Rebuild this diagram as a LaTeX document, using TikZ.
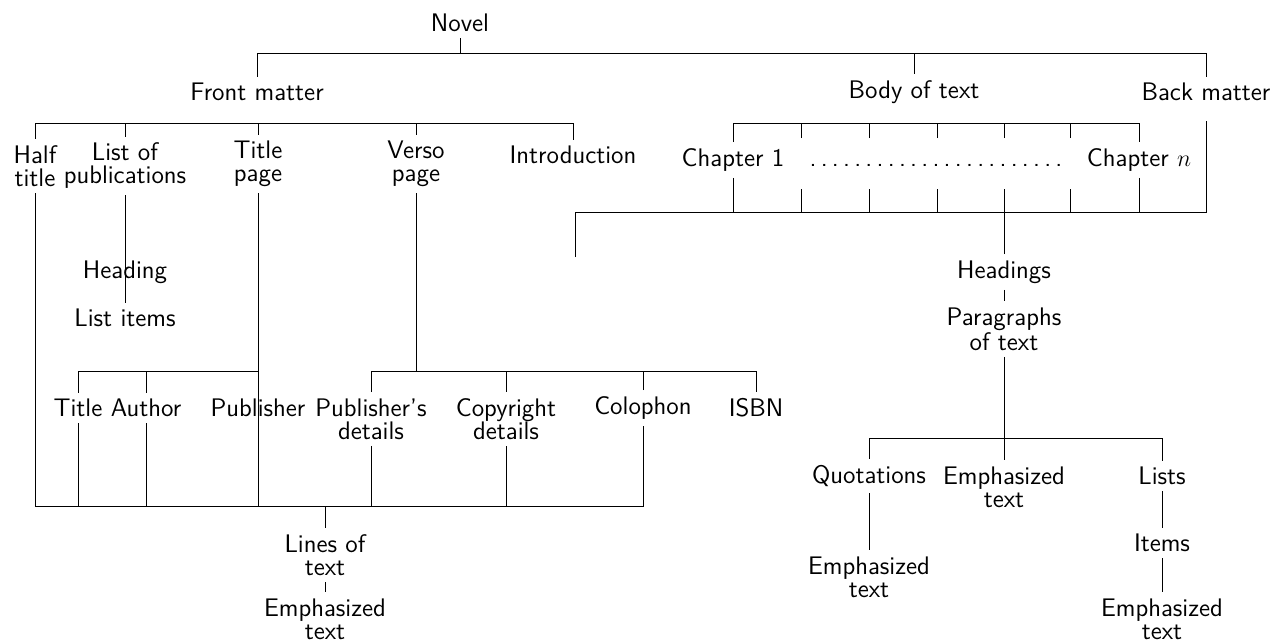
\documentclass[tikz,border=0pt]{standalone}
\usepackage{fontspec}
\usetikzlibrary{calc}

\begin{document}
\begin{tikzpicture}[x=0.5pt, y=-0.5pt, line width=0.5pt,
    w/.style={font=\fontsize{12.7}{11.5}\selectfont\sffamily, align=center, inner sep=3pt}]
  \useasboundingbox (0,0) rectangle (1275,643);

  % levels of the bars
  \coordinate (bar0) at (0,53);
  \coordinate (bar1) at (0,123);
  \coordinate (bar2) at (0,212);
  \coordinate (bar3) at (0,371);
  \coordinate (bar4) at (0,506);
  \coordinate (bar5) at (0,438);

  % top level
  \node[w] (novel) at (460,23) {Novel};
  \node[w] (front) at (257,92) {Front matter};
  \node[w] (body) at (914,92) {Body of text};
  \node[w] (back) at (1206,92) {Back matter};

  % front matter
  \node[w] (half) at (35,166) {Half\\title};
  \node[w] (listpub) at (125,166) {List of\\publications};
  \node[w] (titlepage) at (258,164) {Title\\page};
  \node[w] (verso) at (416,164) {Verso\\page};
  \node[w] (intro) at (573,155) {Introduction};
  \node[w] (heading) at (125,272) {Heading};
  \node[w] (listitems) at (125,318) {List items};
  \node[w] (title) at (78,408) {Title};
  \node[w] (author) at (146,408) {Author};
  \node[w] (publisher) at (258,408) {Publisher};
  \node[w] (pubdet) at (371,419) {Publisher's\\details};
  \node[w] (copydet) at (506,419) {Copyright\\details};
  \node[w] (colophon) at (643,408) {Colophon};
  \node[w] (isbn) at (756,408) {ISBN};
  \node[w] (lines) at (325,555) {Lines of\\text};
  \node[w] (emph1) at (325,619) {Emphasized\\text};

  % body of text
  \node[w] (chap1) at (733,160) {Chapter 1};
  \node[w] (dots) at (936,160) {\vphantom{Chapter}\makebox[132pt]{\dotfill}};
  \node[w] (chapn) at (1139,160) {Chapter $n$};
  \coordinate (stub) at (575,257);
  \node[w] (headings) at (1004,272) {Headings};
  \node[w] (paras) at (1004,329) {Paragraphs\\of text};
  \node[w] (quot) at (869,476) {Quotations};
  \node[w] (emph2) at (1004,487) {Emphasized\\text};
  \node[w] (lists) at (1162,476) {Lists};
  \node[w] (emph3) at (869,577) {Emphasized\\text};
  \node[w] (items) at (1162,543) {Items};
  \node[w] (emph4) at (1162,619) {Emphasized\\text};

  % novel
  \draw (novel.south) -- (novel.south |- bar0);
  \draw (front.north) |- (back.north |- bar0) -- (back.north);
  \draw (body.north) -- (body.north |- bar0);

  % front matter
  \draw (half.north) |- (intro.north |- bar1) -- (intro.north);
  \foreach \c in {listpub, titlepage, verso}
    \draw (\c.north) -- (\c.north |- bar1);
  \draw (listpub.south) -- (listitems.north);
  \draw (titlepage.south) -- (titlepage.south |- bar4);
  \draw (verso.south) -- (verso.south |- bar3);
  \draw (title.north) |- (titlepage.south |- bar3);
  \draw (author.north) -- (author.north |- bar3);
  \draw (pubdet.north) |- (isbn.north |- bar3) -- (isbn.north);
  \foreach \c in {copydet, colophon}
    \draw (\c.north) -- (\c.north |- bar3);
  \draw (half.south) |- (colophon.south |- bar4) -- (colophon.south);
  \foreach \c in {title, author, pubdet, copydet}
    \draw (\c.south) -- (\c.south |- bar4);
  \draw (lines.north) -- (lines.north |- bar4);
  \draw (lines) -- (emph1);

  % chapters
  \draw (chap1.north) |- (chapn.north |- bar1) -- (chapn.north);
  \draw[shorten >=7pt] (stub) |- (back.south |- bar2) -- (back.south);
  \foreach \c in {chap1, chapn}
    \draw (\c.south) -- (\c.south |- bar2);
  \foreach \x [count=\i] in {801,869,937,1004,1070} {
    \coordinate (up\i) at (\x,138);
    \coordinate (dn\i) at (\x,189);
    \draw (up\i) -- (up\i |- bar1);
    \draw (dn\i) -- (dn\i |- bar2);
  }

  % inside a chapter
  \draw (headings.north) -- (headings.north |- bar2);
  \draw (headings) -- (paras);
  \draw (paras.south) -- (emph2.north);
  \draw (quot.north) |- (lists.north |- bar5) -- (lists.north);
  \draw (quot) -- (emph3);
  \draw (lists) -- (items);
  \draw (items) -- (emph4);
\end{tikzpicture}
\end{document}
